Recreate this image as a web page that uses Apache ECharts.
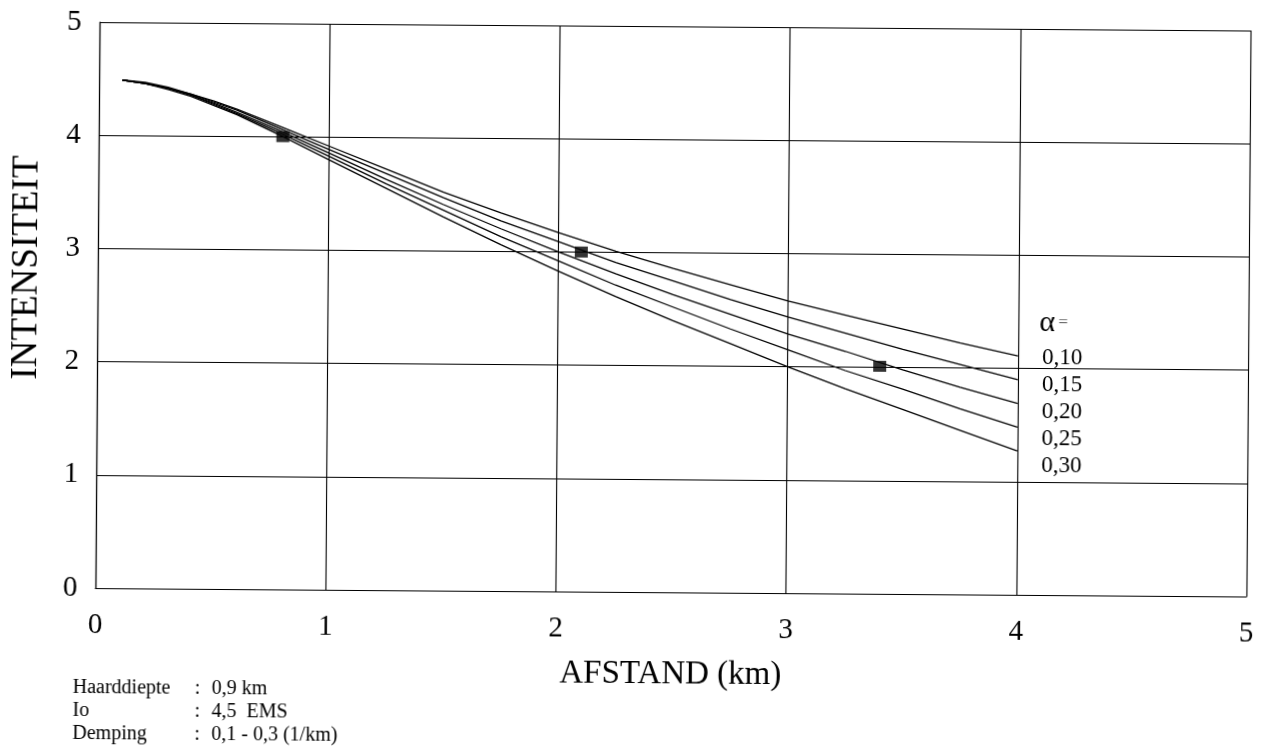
<!DOCTYPE html>
<html>
<head>
<meta charset="utf-8">
<title>Intensiteit - afstand</title>
<script src="https://cdn.jsdelivr.net/npm/echarts@6/dist/echarts.min.js"></script>
<style>
  html, body { margin: 0; padding: 0; background: #fff; }
  /* the scanned original sits a little skewed on the page */
  #chart { width: 1262px; height: 749px; transform: rotate(0.42deg); }
</style>
</head>
<body>
<div id="chart"></div>
<script>
// afstand (km)
const distances = [0.1, 0.2, 0.3, 0.4, 0.5, 0.6, 0.8, 1.0, 1.25, 1.5, 1.75, 2.0, 2.25, 2.5, 2.75, 3.0, 3.25, 3.5, 3.75, 4.0]

// intensiteit per demping alpha
const alpha010 = [4.49, 4.47, 4.43, 4.37, 4.31, 4.24, 4.08, 3.92, 3.72, 3.52, 3.34, 3.17, 3.01, 2.86, 2.72, 2.58, 2.46, 2.34, 2.22, 2.11]
const alpha015 = [4.49, 4.46, 4.42, 4.37, 4.30, 4.23, 4.06, 3.89, 3.68, 3.47, 3.27, 3.09, 2.91, 2.75, 2.59, 2.44, 2.30, 2.16, 2.03, 1.90]
const alpha020 = [4.49, 4.46, 4.42, 4.36, 4.29, 4.21, 4.04, 3.86, 3.63, 3.41, 3.20, 3.00, 2.81, 2.63, 2.46, 2.29, 2.14, 1.98, 1.83, 1.69]
const alpha025 = [4.49, 4.46, 4.42, 4.36, 4.28, 4.20, 4.02, 3.83, 3.59, 3.36, 3.13, 2.92, 2.71, 2.52, 2.33, 2.15, 1.97, 1.81, 1.64, 1.48]
const alpha030 = [4.49, 4.46, 4.41, 4.35, 4.27, 4.19, 4.00, 3.80, 3.55, 3.30, 3.06, 2.83, 2.61, 2.40, 2.20, 2.00, 1.81, 1.63, 1.45, 1.27]

// waarnemingen (zwarte blokjes)
const obsDistance = [0.8, 2.1, 3.4]
const obsIntensity = [4.0, 3.0, 2.01]

const alphaLabels = ['0,10', '0,15', '0,20', '0,25', '0,30']
const infoLabels = ['Haarddiepte', 'Io', 'Demping']
const infoValues = ['0,9 km', '4,5  EMS', '0,1 - 0,3 (1/km)']

const serif = '"Liberation Serif", "Times New Roman", serif'
const ink = '#000'

const curves = [alpha010, alpha015, alpha020, alpha025, alpha030]

const chart = echarts.init(document.getElementById('chart'))

const lineSeries = curves.map((vals, i) => ({
  name: alphaLabels[i],
  type: 'line',
  data: distances.map((d, j) => [d, vals[j]]),
  showSymbol: false,
  smooth: false,
  lineStyle: { color: ink, width: 1.3 },
  z: 3,
}))

const alphaTexts = alphaLabels.map((t, i) => ({
  type: 'text',
  x: 1042,
  y: 355 + i * 27,
  style: { text: t, font: '23px ' + serif, fill: ink, verticalAlign: 'middle' },
}))

const infoTexts = []
infoLabels.forEach((t, i) => {
  const y = 692 + i * 23
  infoTexts.push(
    { type: 'text', x: 75, y, style: { text: t, font: '20px ' + serif, fill: ink, verticalAlign: 'middle' } },
    { type: 'text', x: 197, y, style: { text: ':', font: '20px ' + serif, fill: ink, verticalAlign: 'middle' } },
    { type: 'text', x: 214, y, style: { text: infoValues[i], font: '20px ' + serif, fill: ink, verticalAlign: 'middle' } }
  )
})

chart.setOption({
  animation: false,
  backgroundColor: '#fff',
  grid: { left: 95, right: 14, top: 26, bottom: 157 },
  xAxis: {
    type: 'value',
    min: 0,
    max: 5,
    interval: 1,
    name: 'AFSTAND (km)',
    nameLocation: 'middle',
    nameGap: 66,
    nameTextStyle: { fontFamily: serif, fontSize: 33, color: ink },
    axisLine: { lineStyle: { color: ink, width: 1.2 } },
    axisTick: { show: false },
    axisLabel: { fontFamily: serif, fontSize: 29, color: ink, margin: 23 },
    splitLine: { lineStyle: { color: ink, width: 1.1 } },
  },
  yAxis: {
    type: 'value',
    min: 0,
    max: 5,
    interval: 1,
    name: 'INTENSITEIT',
    nameLocation: 'middle',
    nameGap: 52,
    nameTextStyle: { fontFamily: serif, fontSize: 37, color: ink, padding: [0, 0, 0, 74] },
    axisLine: { lineStyle: { color: ink, width: 1.2 } },
    axisTick: { show: false },
    axisLabel: { fontFamily: serif, fontSize: 29, color: ink, margin: 18 },
    splitLine: { lineStyle: { color: ink, width: 1.1 } },
  },
  series: [
    ...lineSeries,
    {
      name: 'waarneming',
      type: 'scatter',
      data: obsDistance.map((d, i) => [d, obsIntensity[i]]),
      symbol: 'rect',
      symbolSize: [13, 11],
      itemStyle: { color: '#000' },
      z: 5,
    },
  ],
  graphic: [
    {
      type: 'text',
      x: 1039,
      y: 320,
      style: {
        text: '{a|α} {e|=}',
        verticalAlign: 'middle',
        rich: {
          a: { font: '30px ' + serif, fill: ink },
          e: { font: '17px ' + serif, fill: '#555' },
        },
      },
    },
    ...alphaTexts,
    ...infoTexts,
  ],
})

window.addEventListener('resize', () => chart.resize())
</script>
</body>
</html>
